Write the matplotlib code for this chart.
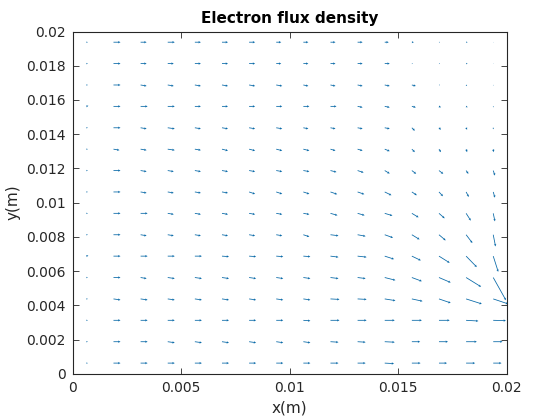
import numpy as np
import matplotlib
matplotlib.use("Agg")
import matplotlib.pyplot as plt

# grid of cell centres (m)
x_centres = [0.000625, 0.001875, 0.003125, 0.004375, 0.005625, 0.006875, 0.008125, 0.009375,
             0.010625, 0.011875, 0.013125, 0.014375, 0.015625, 0.016875, 0.018125, 0.019375]
# rows listed top to bottom
y_centres = [0.019375, 0.018125, 0.016875, 0.015625, 0.014375, 0.013125, 0.011875, 0.010625,
             0.009375, 0.008125, 0.006875, 0.005625, 0.004375, 0.003125, 0.001875, 0.000625]

# flux components (arbitrary units), one row per y value
flux_u = [
    [1.5, 7, 6, 7, 6, 6, 6, 5, 5, 5, 5, 4, 2, 1, 1.5, 0.5],
    [1.5, 7, 6, 6, 6, 6, 6, 5, 5, 5, 5, 5, 1, 1, 1.5, 0.5],
    [1.5, 7, 6, 6, 6, 6, 6, 6, 5, 5, 5, 5, 4, 1, 1, 0.5],
    [2, 7, 7, 7, 6, 6, 6, 6, 6, 6, 5, 5, 4, 2, 1.5, 0.5],
    [1.5, 7, 6, 7, 6, 6, 6, 6, 5, 5, 5, 5, 3, 2, 1, 0.1],
    [1.5, 6, 6, 7, 6, 6, 6, 6, 6, 5, 5, 5, 3, 2, 1, 0.3],
    [1.5, 7, 6, 6, 6, 6, 6, 6, 6, 6, 6, 5, 4.3, 4.3, 2.3, 1.7],
    [1.5, 7, 6, 6, 6, 6, 6, 6, 6, 6.7, 6.7, 6.7, 5, 4, 2.7, 1.7],
    [1.5, 7, 7, 6, 6, 6, 6, 6, 6, 7, 7, 7.7, 6.7, 5.7, 4.7, 1.7],
    [1.5, 7, 6, 6, 6, 6, 6, 6, 6, 8, 8, 8.3, 7.7, 6.7, 6.3, 2.3],
    [2, 7, 7, 7, 7, 7, 7, 7, 7, 8, 9, 9.3, 9, 10.7, 10.7, 5],
    [1.5, 7, 6, 7, 7, 7, 7, 7, 7, 8, 8, 10.7, 10, 11.7, 15, 12.7],
    [1.5, 7, 7, 7, 7, 7, 7, 7, 7, 9, 9, 10.7, 10.7, 11.7, 15.7, 15],
    [1.5, 7, 7, 7, 7, 7, 7, 7, 7, 9, 9, 10, 10, 10.7, 12.3, 12.7],
    [1.5, 7, 7, 7, 7, 7, 7, 7, 7, 8, 8, 10, 8.3, 9, 10.7, 9.3],
    [1.5, 7, 7, 7, 7, 7, 7, 7, 7, 8, 8, 9.3, 8.7, 8, 9, 8.3],
]
flux_v = [
    [0, 0, 0, 0, 0, 0, 0, 0, 0, 0, 0, 0, 0, 0, 0, 0],
    [0, 0, 0, 0, 0, 0, 0, 0, 0, 0, 0, 0, 0, 0, 0, 0],
    [0, 0, -1, -1, -1, -1, -1, -1, -1, -1, -1, -1, -1, 0, -1, -0.5],
    [0.7, 0, 0, 0, 0, 0, 0, 0, 0, 0, -1, -1, -1, -1, -1, -1],
    [0, 0, -1, -1, -1, -1, -1, -1, -1, -1, -1, -1, -3, -2, -2, -1.5],
    [0, -1, -1, -1, -1, -1.5, -1.5, -1.5, -1.5, -1.5, -1.5, -2, -3, -3, -3, -3],
    [0, 0, -1, -1, -1, -1, -1, -1, -1, -1.5, -2, -3, -3.3, -3.3, -3.3, -5],
    [0, 0, -1, -1, -1, -1, -2, -2, -2, -2.3, -2.3, -3.3, -3.3, -4.3, -5, -5.7],
    [0, 0, 0, -1, -1, -1, -1, -1, -1, -2, -2, -2.3, -4, -5, -7.3, -8],
    [0, 0, -1, -1, -1, -1, -1, -1, -2, -1, -1.5, -3, -4.7, -5.7, -8.3, -11.7],
    [0.7, 0, 0, 0, 0, -0.5, -0.5, -0.5, -0.5, -1, -1, -3, -4.3, -6.7, -11, -15.7],
    [0, 0, -1, -1, -1, -1, -1, -1, -1, -1, -1, -2.7, -3.7, -5, -9.3, -22.7],
    [0, -1, -1, -1, -1, -1, -1, -1, -1, -0.5, -0.5, -1.7, -2.3, -4, -5, -5],
    [0, 0, 0, 0, 0, 0, 0, 0, -0.5, 0, 0, 0, 0, 0, -0.7, -0.3],
    [0, 0, 0, -1, -1, -1, -1, -1, -1, -0.5, -0.5, -0.5, 0, 0, 0, 0],
    [0, 0, 0, 0, 0, 0, 0, 0, 0, 0, 0, -0.5, 0, 0, 0, 0],
]

x_ticks = [0, 0.005, 0.01, 0.015, 0.02]
x_tick_labels = ["0", "0.005", "0.01", "0.015", "0.02"]
y_ticks = [0, 0.002, 0.004, 0.006, 0.008, 0.01, 0.012, 0.014, 0.016, 0.018, 0.02]
y_tick_labels = ["0", "0.002", "0.004", "0.006", "0.008", "0.01", "0.012", "0.014", "0.016", "0.018", "0.02"]

X, Y = np.meshgrid(x_centres, y_centres)
U = np.array(flux_u)
V = np.array(flux_v)

fig = plt.figure(figsize=(5.6, 4.2), dpi=100)
ax = fig.add_axes([0.13, 0.11, 0.775, 0.815])

# thin MATLAB-like arrows with small heads
ax.quiver(X, Y, U, V, color="#0a6aa8", angles="uv", scale_units="dots", scale=1,
          units="dots", width=0.8, headwidth=3, headlength=3, headaxislength=2.6,
          minlength=0.3, minshaft=1)

ax.set_xlim(0, 0.02)
ax.set_ylim(0, 0.02)
ax.set_xticks(x_ticks)
ax.set_xticklabels(x_tick_labels)
ax.set_yticks(y_ticks)
ax.set_yticklabels(y_tick_labels)

dark = "#262626"
ax.tick_params(direction="in", top=True, right=True, length=4, width=0.6,
               colors=dark, labelsize=10, pad=5)
for sp in ax.spines.values():
    sp.set_color(dark)
    sp.set_linewidth(0.8)

ax.set_title("Electron flux density", fontsize=11, fontweight="bold", color="black", pad=6)
ax.set_xlabel("x(m)", fontsize=11, color=dark)
ax.set_ylabel("y(m)", fontsize=11, color=dark)

fig.savefig("out.png", dpi=100)
